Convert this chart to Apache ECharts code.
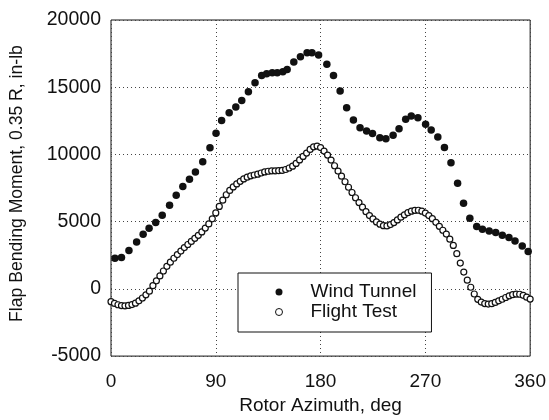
<!DOCTYPE html>
<html>
<head>
<meta charset="utf-8">
<script src="https://cdn.jsdelivr.net/npm/echarts@6/dist/echarts.min.js"></script>
<style>
html,body{margin:0;padding:0;background:#fff;}
#chart{width:549px;height:420px;}
</style>
</head>
<body>
<div id="chart"></div>
<script>
// Tick values
var xTicks = [0, 90, 180, 270, 360];
var yTicks = [-5000, 0, 5000, 10000, 15000, 20000];

// Series names
var seriesNames = ["Wind Tunnel", "Flight Test"];

// Wind Tunnel: azimuth (deg) and flap bending moment (in-lb)
var wtAz = [3.4, 9, 15.4, 22, 27.6, 32.7, 38.4, 44, 50.3, 56, 61.7, 67.4, 72.5, 78.8, 85, 90.2, 95,
  101.5, 107.2, 112.3, 118, 123.7, 129.4, 133.7, 138.5, 142.8, 147.6, 151.3, 157, 162.7, 168.4, 172.6,
  178.3, 185.4, 191.1, 196.8, 202.4, 208.2, 213.9, 219.5, 224.6, 230.9, 236.1, 242.3, 247.4, 253.1,
  257.9, 263.6, 270.2, 275, 280.7, 286.4, 292, 297.7, 302.8, 308.2, 314.1, 319, 324.8, 330.4, 336.1,
  341.8, 347, 353.2, 358.3];
var wtVal = [2280, 2330, 2850, 3490, 4060, 4510, 4930, 5470, 6220, 6960, 7610, 8150, 8690, 9460, 10500,
  11570, 12530, 13100, 13520, 14020, 14670, 15330, 15880, 16000, 16080, 16080, 16150, 16320, 16870,
  17270, 17560, 17560, 17390, 16700, 15880, 14710, 13480, 12560, 11990, 11740, 11550, 11250, 11170,
  11420, 11920, 12610, 12850, 12730, 12240, 11810, 11290, 10510, 9390, 7850, 6370, 5250, 4640, 4440,
  4310, 4190, 3990, 3820, 3570, 3190, 2780];

// Flight Test: azimuth (deg) and flap bending moment (in-lb)
var ftAz = [0, 3, 6, 9, 12, 15, 18, 21, 24, 27, 30, 33, 36, 39, 42, 45, 48, 51, 54, 57, 60, 63, 66, 69,
  72, 75, 78, 81, 84, 87, 90, 93, 96, 99, 102, 105, 108, 111, 114, 117, 120, 123, 126, 129, 132, 135,
  138, 141, 144, 147, 150, 153, 156, 159, 162, 165, 168, 171, 174, 177, 180, 183, 186, 189, 192, 195,
  198, 201, 204, 207, 210, 213, 216, 219, 222, 225, 228, 231, 234, 237, 240, 243, 246, 249, 252, 255,
  258, 261, 264, 267, 270, 273, 276, 279, 282, 285, 288, 291, 294, 297, 300, 303, 306, 309, 312, 315,
  318, 321, 324, 327, 330, 333, 336, 339, 342, 345, 348, 351, 354, 357, 360];
var ftVal = [-950, -1080, -1180, -1240, -1260, -1230, -1170, -1060, -890, -680, -440, -170, 240, 600,
  960, 1330, 1680, 1990, 2280, 2550, 2810, 3070, 3300, 3530, 3760, 3980, 4240, 4520, 4830, 5210, 5650,
  6130, 6600, 7000, 7320, 7580, 7810, 8000, 8180, 8310, 8410, 8470, 8530, 8620, 8700, 8750, 8780, 8780,
  8790, 8810, 8880, 8990, 9130, 9330, 9590, 9850, 10100, 10370, 10570, 10620, 10510, 10250, 9950, 9580,
  9160, 8760, 8380, 7970, 7560, 7170, 6780, 6420, 6080, 5740, 5450, 5200, 4980, 4810, 4700, 4680, 4780,
  4930, 5130, 5330, 5510, 5670, 5780, 5840, 5850, 5780, 5640, 5450, 5220, 4950, 4650, 4360, 4080, 3700,
  3230, 2620, 1920, 1250, 650, 120, -380, -780, -980, -1090, -1130, -1100, -1010, -890, -770, -640, -520,
  -430, -390, -400, -480, -620, -760];

function pairs(xs, ys) {
  var out = [];
  for (var i = 0; i < xs.length; i++) out.push([xs[i], ys[i]]);
  return out;
}

var FONT = '"Liberation Sans", Arial, Helvetica, sans-serif';
var chart = echarts.init(document.getElementById('chart'), null, {renderer: 'canvas'});
chart.setOption({
  backgroundColor: '#ffffff',
  animation: false,
  textStyle: {fontFamily: FONT},
  grid: {left: 111, right: 16, top: 20, bottom: 63, show: true, borderColor: '#111', borderWidth: 1},
  xAxis: {
    type: 'value', min: xTicks[0], max: xTicks[xTicks.length - 1], interval: 90,
    name: 'Rotor Azimuth, deg', nameLocation: 'middle', nameGap: 39,
    nameTextStyle: {color: '#111', fontSize: 19, fontFamily: FONT},
    axisLine: {show: false}, axisTick: {show: false},
    axisLabel: {color: '#111', fontSize: 19, margin: 16, fontFamily: FONT,
      formatter: function (v) { return String(v); }},
    splitLine: {show: true, lineStyle: {color: '#444', type: [1, 3], width: 1}}
  },
  yAxis: {
    type: 'value', min: yTicks[0], max: yTicks[yTicks.length - 1], interval: 5000,
    name: 'Flap Bending Moment, 0.35 R, in-lb', nameLocation: 'middle', nameGap: 85, nameRotate: 90,
    nameTextStyle: {color: '#111', fontSize: 17.6, fontFamily: FONT, padding: [0, 0, 0, 9]},
    axisLine: {show: false}, axisTick: {show: false},
    axisLabel: {color: '#111', fontSize: 19.5, margin: 10, fontFamily: FONT,
      formatter: function (v) { return String(v); }},
    splitLine: {show: true, lineStyle: {color: '#444', type: [1, 3], width: 1}}
  },
  legend: {
    orient: 'vertical', left: 238, top: 273,
    padding: [9, 15, 10, 37], itemGap: 0, itemWidth: 7, itemHeight: 7,
    backgroundColor: '#fff', borderColor: '#111', borderWidth: 1, borderRadius: 0,
    textStyle: {color: '#111', fontSize: 19, lineHeight: 20, fontFamily: FONT, padding: [0, 0, 0, 23]},
    data: [
      {name: seriesNames[0], icon: 'circle', itemStyle: {color: '#111', borderWidth: 0}},
      {name: seriesNames[1], icon: 'circle', itemStyle: {color: '#fff', borderColor: '#111', borderWidth: 1}}
    ]
  },
  series: [
    {
      name: seriesNames[0], type: 'scatter', symbol: 'circle', symbolSize: 7.5,
      itemStyle: {color: '#111', opacity: 1},
      data: pairs(wtAz, wtVal), z: 3
    },
    {
      name: seriesNames[1], type: 'scatter', symbol: 'circle', symbolSize: 6,
      itemStyle: {color: '#fff', borderColor: '#111', borderWidth: 1.2, opacity: 1},
      data: pairs(ftAz, ftVal), z: 2
    }
  ]
});
</script>
</body>
</html>
